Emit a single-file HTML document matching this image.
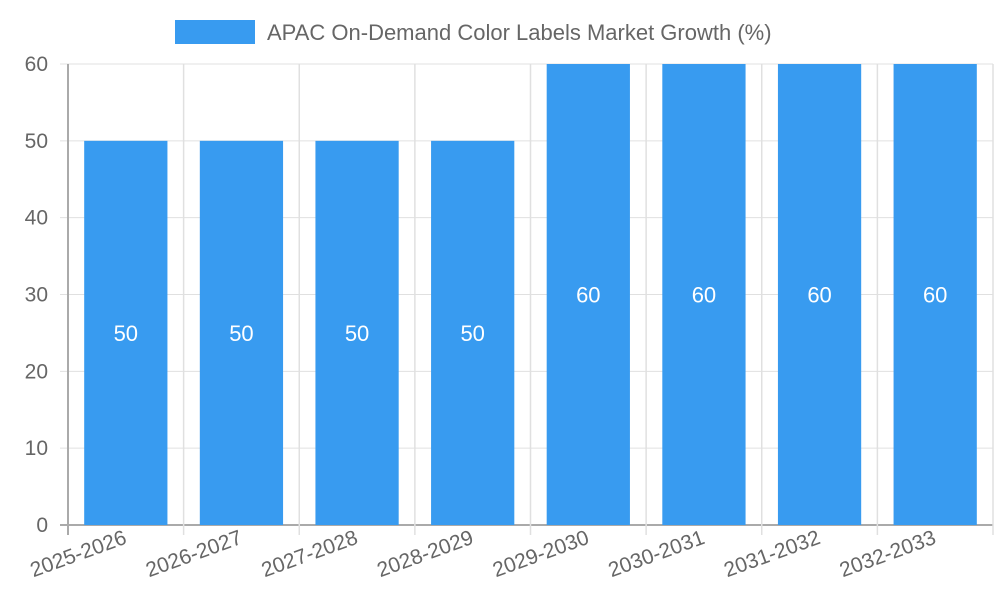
<!DOCTYPE html>
<html><head><meta charset="utf-8"><style>
html,body{margin:0;padding:0;background:#fff;}
svg{display:block;font-family:"Liberation Sans",sans-serif;}
</style></head><body>
<svg id="chart" width="1000" height="600">
<g>
<rect x="175" y="20" width="80" height="24" fill="#389BF0"></rect>
<text x="267" y="40" font-size="22" fill="#666">APAC On-Demand Color Labels Market Growth (%)</text>
</g>
<g id="grid"></g><g id="bars"></g><g id="axes"></g>
</svg>
<script>
const categories=["2025-2026","2026-2027","2027-2028","2028-2029","2029-2030","2030-2031","2031-2032","2032-2033"];
const values=[50,50,50,50,60,60,60,60];
const yTicks=[0,10,20,30,40,50,60];
const X0=68,X1=993,Y0=525,Y1=64,YMAX=60;
const ns="http://www.w3.org/2000/svg";
const step=(X1-X0)/categories.length;
const x=i=>X0+i*step;
const y=v=>Y0-(v/YMAX)*(Y0-Y1);
function mk(tag,attrs,parent,text){const e=document.createElementNS(ns,tag);for(const k in attrs)e.setAttribute(k,attrs[k]);if(text!==undefined)e.textContent=text;document.getElementById(parent).appendChild(e);return e;}
yTicks.forEach(t=>{
 const l=mk("line",{x1:X0-8,x2:X1,y1:y(t),y2:y(t),stroke:t===0?"#aaa":"#e0e0e0","stroke-width":t===0?2:1},"grid");
 
 
 const tx=mk("text",{x:X0-20,y:y(t)+7,"text-anchor":"end","font-size":21,fill:"#666"},"axes",String(t));
 
 
});
for(let i=0;i<=categories.length;i++){
 const l=mk("line",{x1:x(i),x2:x(i),y1:Y1,y2:Y0+10,stroke:i===0?"#aaa":"#e0e0e0","stroke-width":i===0?2:1.5},"grid");
 
 
}
categories.forEach((c,i)=>{
 const bw=step*0.72,bx=x(i)+(step-bw)/2;
 const r=mk("rect",{x:bx,y:y(values[i]),width:bw,height:Y0-y(values[i]),fill:"#389BF0"},"bars");
 
 
 const v=mk("text",{x:bx+bw/2,y:(y(values[i])+Y0)/2+8,"text-anchor":"middle","font-size":22,fill:"#fff"},"bars",String(values[i]));
 
 
 const cx=x(i)+step/2+2,cy=543;
 const t=mk("text",{x:cx,y:cy,"text-anchor":"end","font-size":21,fill:"#666",transform:`rotate(-20 ${cx} ${cy})`},"axes",c);
 
 
});
</script>
</body></html>
